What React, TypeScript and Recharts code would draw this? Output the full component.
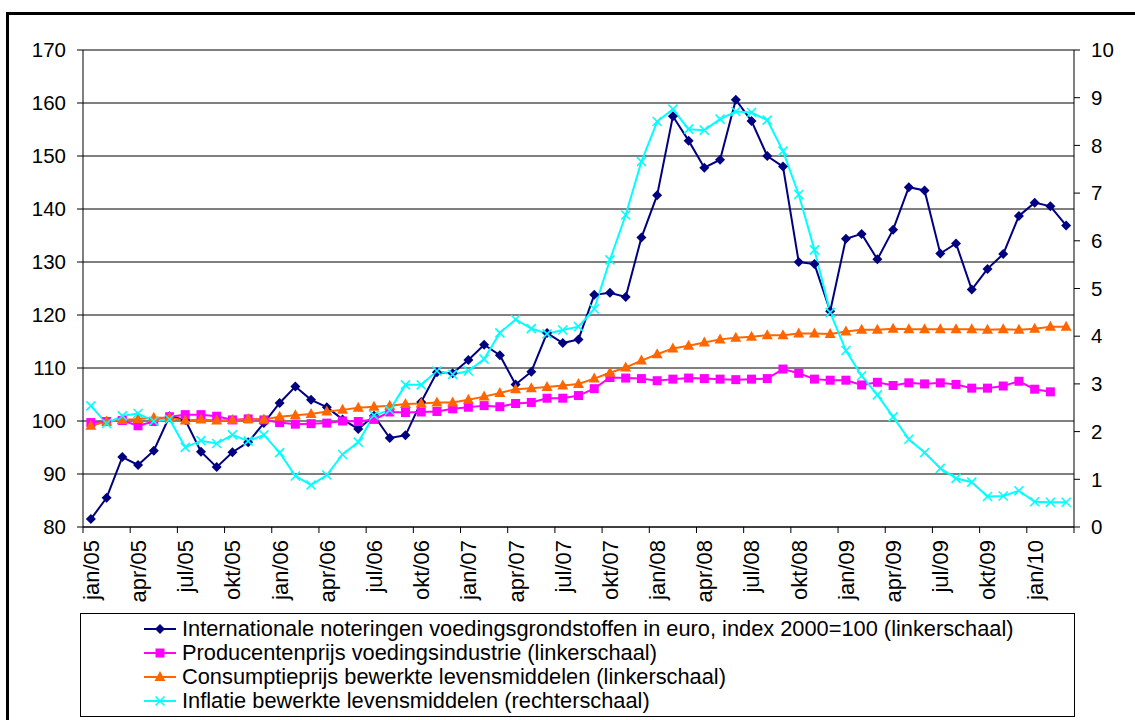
import { LineChart, Line, XAxis, YAxis, CartesianGrid, Legend } from "recharts";

const MONTHS = [
  "jan/05", "feb/05", "mrt/05", "apr/05", "mei/05", "jun/05", "jul/05", "aug/05", "sep/05", "okt/05", "nov/05", "dec/05",
  "jan/06", "feb/06", "mrt/06", "apr/06", "mei/06", "jun/06", "jul/06", "aug/06", "sep/06", "okt/06", "nov/06", "dec/06",
  "jan/07", "feb/07", "mrt/07", "apr/07", "mei/07", "jun/07", "jul/07", "aug/07", "sep/07", "okt/07", "nov/07", "dec/07",
  "jan/08", "feb/08", "mrt/08", "apr/08", "mei/08", "jun/08", "jul/08", "aug/08", "sep/08", "okt/08", "nov/08", "dec/08",
  "jan/09", "feb/09", "mrt/09", "apr/09", "mei/09", "jun/09", "jul/09", "aug/09", "sep/09", "okt/09", "nov/09", "dec/09",
  "jan/10", "feb/10", "mrt/10",
];

// internationale noteringen (linkerschaal)
const INTL = [
  81.5, 85.5, 93.2, 91.7, 94.4, 100.9, 100.2, 94.2, 91.3, 94.1, 96.0, 99.6,
  103.4, 106.5, 104.0, 102.6, 100.3, 98.5, 101.0, 96.8, 97.3, 103.6, 109.2, 109.0,
  111.5, 114.4, 112.4, 106.9, 109.3, 116.6, 114.7, 115.4, 123.8, 124.2, 123.4, 134.6,
  142.6, 157.5, 152.9, 147.8, 149.3, 160.6, 156.6, 150.0, 148.0, 130.0, 129.6, 120.7,
  134.4, 135.3, 130.5, 136.1, 144.1, 143.5, 131.6, 133.5, 124.8, 128.7, 131.5, 138.7,
  141.2, 140.5, 136.9,
];

// producentenprijs (linkerschaal), mrt/10 ontbreekt
const PROD = [
  99.7, 99.9, 100.1, 99.1, 99.9, 100.8, 101.2, 101.2, 100.9, 100.2, 100.4, 100.2,
  99.7, 99.4, 99.5, 99.6, 100.0, 99.9, 100.3, 101.7, 101.6, 101.7, 101.8, 102.3,
  102.6, 102.9, 102.7, 103.3, 103.5, 104.3, 104.3, 104.8, 106.1, 108.2, 108.1, 108.0,
  107.6, 107.9, 108.1, 108.0, 107.9, 107.8, 107.9, 108.0, 109.8, 109.0, 107.9, 107.7,
  107.7, 106.8, 107.3, 106.7, 107.2, 107.0, 107.2, 106.9, 106.2, 106.2, 106.6, 107.5,
  106.0, 105.5, null,
];

// consumptieprijs (linkerschaal)
const CONS = [
  99.1, 99.9, 100.2, 100.4, 100.6, 100.6, 100.1, 100.3, 100.1, 100.2, 100.4, 100.3,
  100.8, 101.1, 101.3, 101.8, 102.1, 102.5, 102.7, 102.9, 103.2, 103.3, 103.5, 103.5,
  104.0, 104.6, 105.3, 106.0, 106.2, 106.4, 106.7, 107.0, 108.0, 109.1, 110.1, 111.4,
  112.6, 113.7, 114.2, 114.8, 115.4, 115.7, 115.9, 116.2, 116.2, 116.5, 116.5, 116.4,
  116.9, 117.2, 117.2, 117.4, 117.3, 117.3, 117.3, 117.3, 117.3, 117.2, 117.3, 117.2,
  117.4, 117.8, 117.8,
];

// inflatie (rechterschaal)
const INFL = [
  2.54, 2.17, 2.33, 2.38, 2.22, 2.26, 1.67, 1.81, 1.75, 1.93, 1.8, 1.93,
  1.56, 1.07, 0.88, 1.09, 1.52, 1.78, 2.34, 2.45, 2.98, 2.98, 3.27, 3.2,
  3.27, 3.52, 4.07, 4.35, 4.16, 4.05, 4.13, 4.2, 4.57, 5.6, 6.54, 7.66,
  8.5, 8.76, 8.34, 8.32, 8.55, 8.71, 8.69, 8.53, 7.88, 6.97, 5.81, 4.5,
  3.7, 3.17, 2.77, 2.31, 1.84, 1.56, 1.23, 1.02, 0.94, 0.64, 0.65, 0.76,
  0.53, 0.52, 0.52,
];

const LEFT_TICKS = [80, 90, 100, 110, 120, 130, 140, 150, 160, 170];
const RIGHT_TICKS = [0, 1, 2, 3, 4, 5, 6, 7, 8, 9, 10];

const SERIES = [
  { key: "intl", name: "Internationale noteringen voedingsgrondstoffen in euro, index 2000=100 (linkerschaal)", color: "#000080", shape: "diamond", axis: "left" },
  { key: "prod", name: "Producentenprijs voedingsindustrie (linkerschaal)", color: "#ff00ff", shape: "square", axis: "left" },
  { key: "cons", name: "Consumptieprijs bewerkte levensmiddelen (linkerschaal)", color: "#ff6600", shape: "triangle", axis: "left" },
  { key: "infl", name: "Inflatie bewerkte levensmiddelen (rechterschaal)", color: "#00ffff", shape: "cross", axis: "right" },
];

const W = 1135;
const H = 720;
const PLOT_LEFT = 83;
const PLOT_RIGHT = 1074;
const BAND = (PLOT_RIGHT - PLOT_LEFT) / MONTHS.length;
const FONT = "'Liberation Sans', Arial, sans-serif";

const data = MONTHS.map((m, i) => ({
  i,
  month: m,
  intl: INTL[i],
  prod: PROD[i],
  cons: CONS[i],
  infl: INFL[i],
}));

// tick marks sit between categories, every third month
const X_TICKS = [...MONTHS.map((_, i) => i - 0.5).filter((_, i) => i % 3 === 0), MONTHS.length - 0.5];

function Marker({ shape, color, cx, cy }: { shape: string; color: string; cx: number; cy: number }) {
  if (shape === "diamond") {
    return <path d={`M${cx},${cy - 5}L${cx + 5},${cy}L${cx},${cy + 5}L${cx - 5},${cy}Z`} fill={color} />;
  }
  if (shape === "square") {
    return <rect x={cx - 4.5} y={cy - 4.5} width={9} height={9} fill={color} />;
  }
  if (shape === "triangle") {
    return <path d={`M${cx},${cy - 6}L${cx + 5.5},${cy + 4}L${cx - 5.5},${cy + 4}Z`} fill={color} />;
  }
  return (
    <g stroke={color} strokeWidth={1.6}>
      <line x1={cx - 4.5} y1={cy - 4.5} x2={cx + 4.5} y2={cy + 4.5} />
      <line x1={cx - 4.5} y1={cy + 4.5} x2={cx + 4.5} y2={cy - 4.5} />
    </g>
  );
}

function makeDot(shape: string, color: string) {
  return (p: any) => {
    if (p.cx == null || p.cy == null || p.value == null) return <g key={p.index} />;
    return (
      <g key={p.index}>
        <Marker shape={shape} color={color} cx={p.cx} cy={p.cy} />
      </g>
    );
  };
}

function MonthTick(props: any) {
  const { x, y, payload } = props;
  const idx = Math.round(payload.value + 0.5);
  if (idx >= MONTHS.length) return <g />;
  return (
    <text
      x={0}
      y={0}
      transform={`translate(${x + BAND / 2},${y}) rotate(-90)`}
      textAnchor="end"
      dy="0.36em"
      fontSize={22}
      fill="#000"
    >
      {MONTHS[idx]}
    </text>
  );
}

function LegendBox() {
  return (
    <div
      style={{
        border: "1px solid #000",
        background: "#fff",
        boxSizing: "border-box",
        height: 104,
        padding: "3px 0 0 62px",
        fontFamily: FONT,
        fontSize: 21.8,
        color: "#000",
      }}
    >
      {SERIES.map((s) => (
        <div key={s.key} style={{ display: "flex", alignItems: "center", height: 24 }}>
          <svg width={34} height={14} style={{ marginRight: 5 }}>
            <line x1={1} y1={7} x2={33} y2={7} stroke={s.color} strokeWidth={2} />
            <Marker shape={s.shape} color={s.color} cx={17} cy={7} />
          </svg>
          <span style={{ whiteSpace: "nowrap" }}>{s.name}</span>
        </div>
      ))}
    </div>
  );
}

export default function App() {
  return (
    <div style={{ position: "fixed", left: 0, top: 0, width: W, height: H, overflow: "hidden", background: "#fff" }}>
      <div
        style={{
          position: "absolute",
          left: 6,
          top: 12,
          width: 1300,
          height: 900,
          border: "3px solid #000",
        }}
      />
      <div style={{ position: "absolute", left: 0, top: 0 }}>
        <LineChart
          width={W}
          height={H}
          data={data}
          margin={{ top: 50, right: 11, left: 8, bottom: 113 }}
          style={{ fontFamily: FONT }}
        >
          <CartesianGrid vertical={false} stroke="#000" strokeWidth={1} yAxisId="left" />
          <XAxis
            dataKey="i"
            type="number"
            domain={[-0.5, MONTHS.length - 0.5]}
            ticks={X_TICKS}
            interval={0}
            height={80}
            tickSize={6}
            tickMargin={7}
            axisLine={{ stroke: "#000" }}
            tickLine={{ stroke: "#000" }}
            tick={(p: any) => <MonthTick {...p} />}
          />
          <YAxis
            yAxisId="left"
            domain={[80, 170]}
            ticks={LEFT_TICKS}
            interval={0}
            width={75}
            tickSize={6}
            tickMargin={11}
            axisLine={{ stroke: "#000" }}
            tickLine={{ stroke: "#000" }}
            tick={{ fill: "#000", fontSize: 20.5 }}
          />
          <YAxis
            yAxisId="right"
            orientation="right"
            domain={[0, 10]}
            ticks={RIGHT_TICKS}
            interval={0}
            width={50}
            tickSize={6}
            tickMargin={11}
            axisLine={{ stroke: "#000" }}
            tickLine={{ stroke: "#000" }}
            tick={{ fill: "#000", fontSize: 20.5 }}
          />
          {SERIES.map((s) => (
            <Line
              key={s.key}
              yAxisId={s.axis}
              dataKey={s.key}
              name={s.name}
              type="linear"
              stroke={s.color}
              strokeWidth={2}
              dot={makeDot(s.shape, s.color)}
              activeDot={false}
              connectNulls={false}
              isAnimationActive={false}
            />
          ))}
          <Legend
            layout="vertical"
            align="center"
            verticalAlign="middle"
            wrapperStyle={{ left: 80, top: 613, width: 995, height: 104 }}
            content={() => <LegendBox />}
          />
        </LineChart>
      </div>
    </div>
  );
}
